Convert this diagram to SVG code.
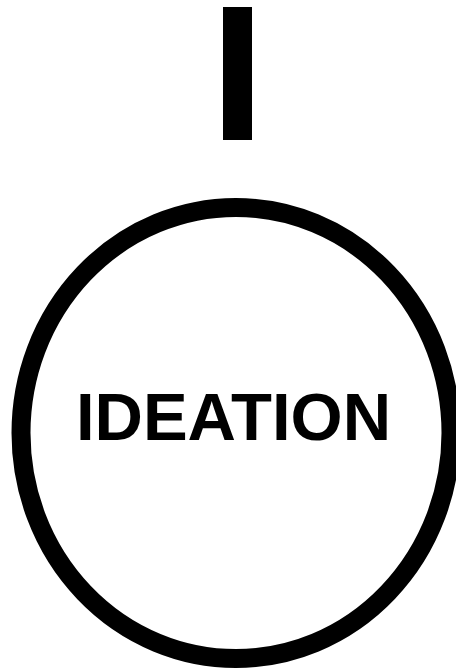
<svg xmlns="http://www.w3.org/2000/svg" width="456" height="672" viewBox="0 0 456 672">
<style>
.lbl{font-family:"Liberation Sans",Arial,sans-serif;font-weight:bold;font-size:67px;fill:#000}
</style>
<rect width="456" height="672" fill="#fff"/>
<g id="connectors">
<rect x="223" y="7" width="29" height="133" fill="#000"/>
</g>
<g id="ideation">
<ellipse cx="236" cy="433" rx="215" ry="225.5" fill="none" stroke="#000" stroke-width="19"/>
<text class="lbl" x="233.5" y="440" text-anchor="middle">IDEATION</text>
</g>
</svg>
